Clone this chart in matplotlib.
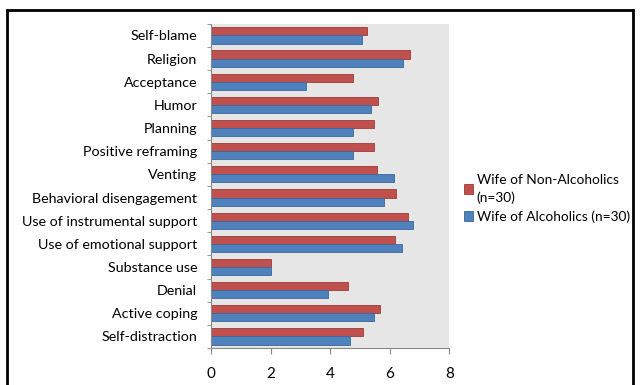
import matplotlib
matplotlib.use("Agg")
import matplotlib.pyplot as plt
import numpy as np
from matplotlib.patches import Rectangle

plt.rcParams['font.family'] = ['Lato', 'DejaVu Sans']

categories = ["Self-blame", "Religion", "Acceptance", "Humor", "Planning",
              "Positive reframing", "Venting", "Behavioral disengagement",
              "Use of instrumental support", "Use of emotional support",
              "Substance use", "Denial", "Active coping", "Self-distraction"]
non_alcoholics = [5.25, 6.69, 4.75, 5.60, 5.48, 5.48, 5.58, 6.22, 6.61, 6.18, 2.0, 4.60, 5.68, 5.10]
alcoholics = [5.06, 6.44, 3.17, 5.36, 4.75, 4.75, 6.13, 5.80, 6.79, 6.41, 2.0, 3.92, 5.48, 4.65]
xticks = [0, 2, 4, 6, 8]
label_non = "Wife of Non-Alcoholics\n(n=30)"
label_alc = "Wife of Alcoholics (n=30)"

fig = plt.figure(figsize=(6.4, 3.85), dpi=100)
ax = fig.add_axes([0.33, 0.096, 0.372, 0.842])
ax.set_facecolor("#e6e6e6")

y = np.arange(len(categories))
h = 0.35
ax.barh(y - h/2, non_alcoholics, height=h, color="#c0504d", edgecolor="#9c3b38", linewidth=0.6, label=label_non)
ax.barh(y + h/2, alcoholics, height=h, color="#4f81bd", edgecolor="#3a6798", linewidth=0.6, label=label_alc)

ax.set_ylim(len(categories) - 0.5, -0.5)
ax.set_xlim(0, 8)
ax.set_xticks(xticks)
ax.set_xticklabels([str(t) for t in xticks], fontsize=11)
ax.set_yticks(y)
ax.set_yticklabels(categories, fontsize=10.3)
ax.tick_params(axis='y', length=0, pad=10)
ax.set_yticks(np.arange(len(categories) + 1) - 0.5, minor=True)
ax.tick_params(axis='y', which='minor', length=3, color="#888888", direction='out')
ax.tick_params(axis='x', length=4, color="#888888", direction='out', pad=10)
for s in ["top", "right"]:
    ax.spines[s].set_visible(False)
for s in ["left", "bottom"]:
    ax.spines[s].set_color("#888888")
    ax.spines[s].set_linewidth(0.8)

leg = fig.legend(loc="upper left", bbox_to_anchor=(0.705, 0.58), frameon=False,
                 fontsize=9.9, handlelength=0.7, handleheight=0.7, handletextpad=0.25,
                 labelspacing=0.45)
for t in leg.get_texts():
    t.set_linespacing(1.5)

fig.patches.append(Rectangle((0.011, -0.05), 0.978, 1.024, transform=fig.transFigure,
                             fill=False, edgecolor="black", linewidth=2))

fig.savefig("out.png", dpi=100)
